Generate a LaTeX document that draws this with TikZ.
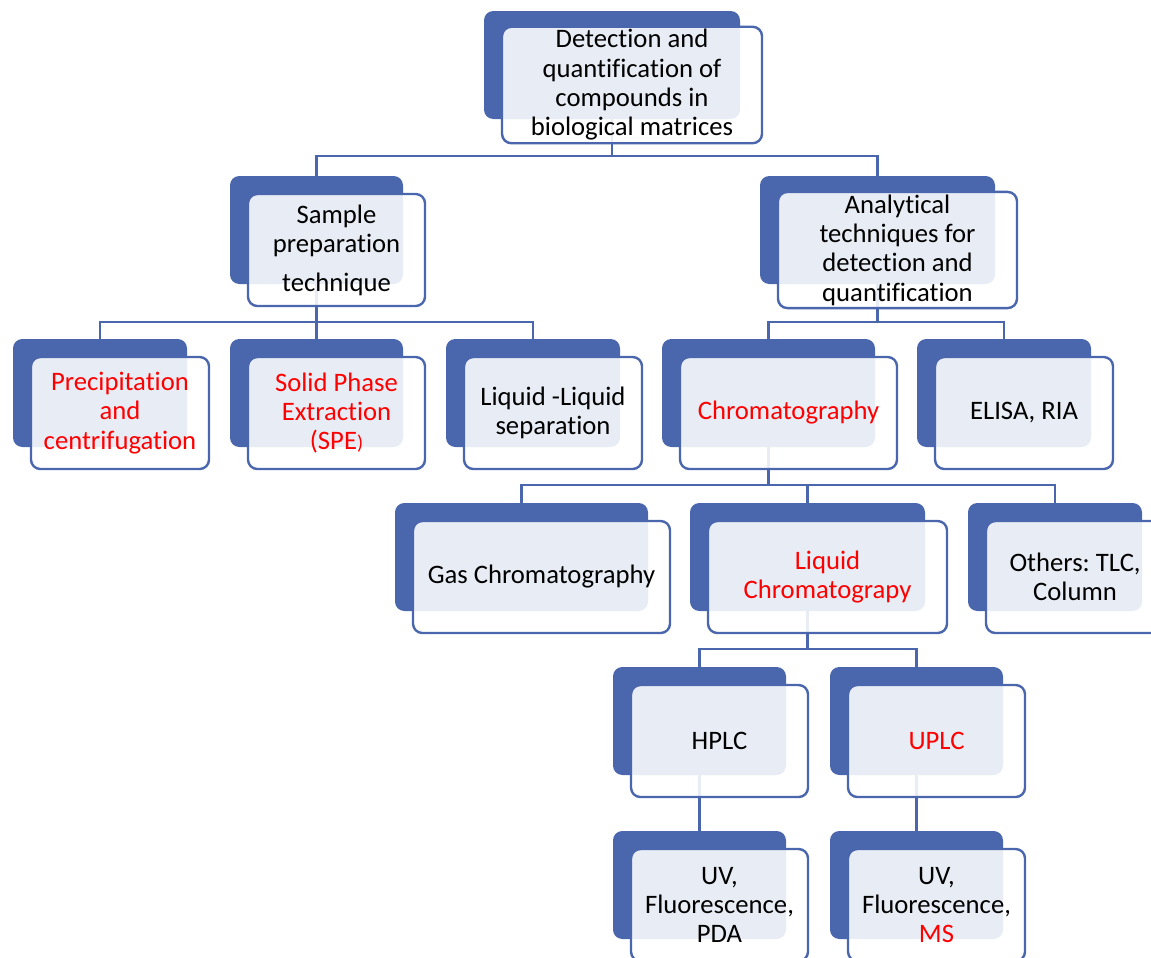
\documentclass[tikz,border=0pt]{standalone}
\usepackage{fontspec}
\setmainfont[Ligatures=NoCommon]{Carlito}
\usetikzlibrary{calc}
\definecolor{sablue}{HTML}{4A66AC}
\definecolor{txtred}{HTML}{FF0000}
\pgfdeclarelayer{bg}
\pgfsetlayers{bg,main}
\frenchspacing
\tikzset{
  backbox/.style={fill=sablue, draw=none, rounded corners=7pt, minimum height=81pt, inner sep=0pt, outer sep=0pt},
  frontbox/.style={fill=white, fill opacity=0.88, text opacity=1, draw=sablue, draw opacity=1, line width=1.8pt,
    rounded corners=7pt, minimum height=84pt, inner sep=2pt, outer sep=0pt, align=center,
    font=\fontsize{20}{22}\selectfont, text=black},
  conn/.style={draw=sablue, line width=1.8pt},
  redtxt/.style={text=txtred}
}
\newcommand\tbox[6][]{%
  \pgfmathsetmacro\bw{(#4-#3)*0.75}%
  \pgfmathsetmacro\bcx{(#3+#4)/2}%
  \pgfmathsetmacro\bcy{#5+54}%
  \node[backbox, minimum width=\bw pt] (#2-b) at (\bcx,\bcy) {};
  \node[frontbox, minimum width=\bw pt+3pt, #1] (#2) at (\bcx+20,\bcy+20) {#6};
}
\begin{document}
\begin{tikzpicture}[x=0.75pt,y=-0.75pt]
\useasboundingbox (0,0) rectangle (1151,957);
\clip (0,0) rectangle (1151,957);
\tbox{top}{484}{740}{11}{Detection and\\quantification of\\compounds in\\biological matrices}
\tbox{samp}{230}{403}{176}{Sample\\preparation\\[7pt]technique}
\tbox{anal}{760}{995}{176}{Analytical\\techniques for\\detection and\\quantification}
\tbox[redtxt]{prec}{13}{187}{339}{Precipitation\\and\\centrifugation}
\tbox[redtxt]{spe}{230}{403}{339}{Solid Phase\\Extraction\\(SPE{\fontsize{15}{17}\selectfont )}}
\tbox{lls}{446}{620}{339}{Liquid -Liquid\\separation}
\tbox[redtxt]{chrom}{662}{875}{339}{Chromatography}
\tbox{elisa}{917}{1091}{339}{ELISA, RIA}
\tbox{gas}{395}{648}{503}{Gas Chromatography}
\tbox[redtxt]{liq}{690}{925}{503}{Liquid\\Chromatograpy}
\tbox{oth}{968}{1142}{503}{Others: TLC,\\Column}
\tbox{hplc}{613}{786}{667}{HPLC}
\tbox[redtxt]{uplc}{830}{1003}{667}{UPLC}
\tbox{det1}{613}{786}{831}{UV,\\Fluorescence,\\PDA}
\tbox{det2}{830}{1003}{831}{UV,\\Fluorescence,\\\textcolor{txtred}{MS}}
\begin{pgfonlayer}{bg}
\draw[conn] (top-b.south) -- ++(0,37) -| (samp-b.north);
\draw[conn] (top-b.south) -- ++(0,37) -| (anal-b.north);
\draw[conn] (samp-b.south) -- ++(0,38) -| (prec-b.north);
\draw[conn] (samp-b.south) -- ++(0,38) -| (spe-b.north);
\draw[conn] (samp-b.south) -- ++(0,38) -| (lls-b.north);
\draw[conn] (anal-b.south) -- ++(0,38) -| (chrom-b.north);
\draw[conn] (anal-b.south) -- ++(0,38) -| (elisa-b.north);
\draw[conn] (chrom-b.south) -- ++(0,38) -| (gas-b.north);
\draw[conn] (chrom-b.south) -- ++(0,38) -| (liq-b.north);
\draw[conn] (chrom-b.south) -- ++(0,38) -| (oth-b.north);
\draw[conn] (liq-b.south) -- ++(0,38) -| (hplc-b.north);
\draw[conn] (liq-b.south) -- ++(0,38) -| (uplc-b.north);
\draw[conn] (hplc-b.south) -- (det1-b.north);
\draw[conn] (uplc-b.south) -- (det2-b.north);
\end{pgfonlayer}
\end{tikzpicture}
\end{document}
